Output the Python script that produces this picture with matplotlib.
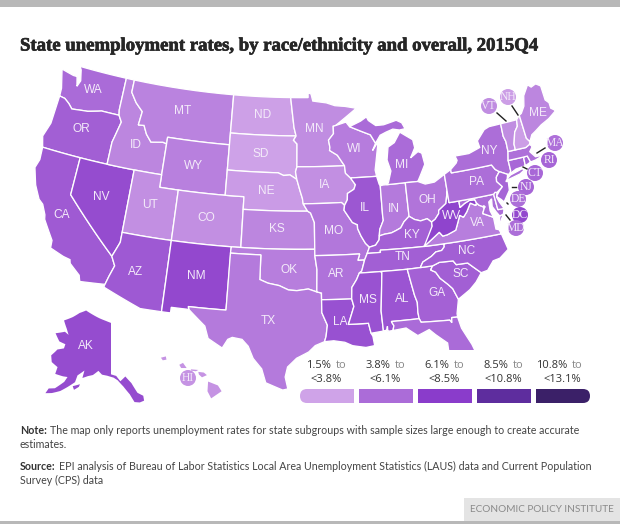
import numpy as np
import matplotlib
matplotlib.use('Agg')
import matplotlib.pyplot as plt
import matplotlib.patheffects as pe
from matplotlib.colors import LinearSegmentedColormap
from matplotlib.patches import Polygon, Rectangle, Circle, FancyBboxPatch

# estimated rates, read from the shade of each state
state_ids = ['AL', 'AK', 'AZ', 'AR', 'CA', 'CO', 'CT', 'DE', 'DC', 'FL', 'GA', 'HI', 'ID', 'IL', 'IN', 'IA', 'KS',
             'KY', 'LA', 'ME', 'MD', 'MA', 'MI', 'MN', 'MS', 'MO', 'MT', 'NE', 'NV', 'NH', 'NJ', 'NM', 'NY', 'NC',
             'ND', 'OH', 'OK', 'OR', 'PA', 'RI', 'SC', 'SD', 'TN', 'TX', 'UT', 'VT', 'VA', 'WA', 'WV', 'WI', 'WY']
state_rates = [6.1, 6.5, 5.9, 4.7, 5.8, 3.5, 5.2, 4.9, 6.7, 5.0, 5.5, 3.3, 3.9, 6.0, 4.4, 3.5, 3.9,
               5.5, 6.3, 3.9, 4.9, 4.8, 5.0, 3.6, 6.2, 4.5, 4.0, 3.0, 6.5, 2.9, 5.3, 6.7, 4.9, 5.6,
               2.8, 4.6, 4.2, 5.6, 4.9, 5.3, 5.6, 2.7, 5.6, 4.4, 3.5, 3.6, 4.2, 5.0, 6.9, 4.3, 4.1]
rates = dict(zip(state_ids, state_rates))

bin_edges = [1.5, 3.8, 6.1, 8.5, 10.8, 13.1]
bin_colors = ['#cfa3e8', '#ab6cd8', '#8a3ccb', '#5e2d9e', '#3b2068']

# shared borders, lon/lat
mn_wi = [(-92.02, 46.71), (-92.29, 46.66), (-92.29, 46.07), (-92.88, 45.57), (-92.75, 45.0), (-92.8, 44.75), (-91.95, 44.35), (-91.22, 43.5)]
ia_wi = [(-91.22, 43.5), (-91.15, 42.9), (-90.64, 42.51)]
ia_il = [(-90.64, 42.51), (-90.15, 41.95), (-90.34, 41.6), (-91.05, 41.3), (-91.1, 40.8), (-91.42, 40.38)]
mo_il = [(-91.42, 40.38), (-91.5, 40.0), (-90.7, 39.0), (-90.2, 38.8), (-90.2, 38.5), (-89.9, 37.9), (-89.5, 37.3), (-89.13, 36.98)]
ar_east = [(-89.7, 36.0), (-90.05, 35.15), (-90.3, 35.0), (-90.6, 34.5), (-91.1, 33.9), (-91.17, 33.0)]
ms_la = [(-91.17, 33.0), (-91.0, 32.4), (-91.6, 31.0), (-89.73, 31.0), (-89.55, 30.2)]
il_ky = [(-89.13, 36.98), (-88.5, 37.1), (-88.1, 37.5), (-88.05, 37.8)]
in_ky = [(-88.05, 37.8), (-87.5, 37.9), (-86.8, 37.95), (-86.3, 38.1), (-85.8, 38.27), (-85.4, 38.72), (-84.82, 39.1)]
oh_ky = [(-84.82, 39.1), (-84.3, 38.8), (-83.7, 38.63), (-83.0, 38.73), (-82.6, 38.42)]
oh_wv = [(-82.6, 38.42), (-82.2, 38.6), (-81.75, 39.0), (-81.7, 39.25), (-80.85, 39.7), (-80.52, 40.64)]
il_in = [(-87.5, 41.72), (-87.53, 39.35), (-87.5, 39.0), (-87.95, 38.3), (-88.05, 37.8)]
ky_tn = [(-89.4, 36.5), (-88.07, 36.5), (-88.07, 36.68), (-83.68, 36.6)]
va_tn = [(-83.68, 36.6), (-81.68, 36.59)]
nc_tn = [(-81.68, 36.59), (-81.7, 36.35), (-82.0, 36.1), (-82.6, 36.05), (-83.1, 35.75), (-84.0, 35.4), (-84.32, 34.99)]
al_ga = [(-85.6, 34.98), (-85.18, 32.87), (-85.0, 32.3), (-85.05, 31.5), (-85.0, 31.0)]
al_ms = [(-88.2, 35.0), (-88.1, 34.9), (-88.47, 31.9), (-88.4, 30.3)]
fl_ga = [(-85.0, 31.0), (-84.86, 30.7), (-82.21, 30.57), (-82.05, 30.35), (-82.0, 30.75), (-81.45, 30.72)]
ga_sc = [(-83.1, 35.0), (-83.35, 34.7), (-82.9, 34.48), (-82.55, 33.95), (-81.9, 33.4), (-81.5, 33.0), (-81.12, 32.1)]
nc_sc = [(-83.1, 35.0), (-82.4, 35.2), (-81.05, 35.15), (-80.8, 34.82), (-79.68, 34.8), (-78.55, 33.86)]
va_west = [(-83.68, 36.6), (-81.97, 37.54), (-81.68, 37.2), (-81.2, 37.25), (-80.3, 37.5), (-80.0, 38.0), (-79.65, 38.6),
           (-79.3, 38.4), (-78.87, 38.77), (-78.35, 39.4), (-77.83, 39.13), (-77.72, 39.32)]
potomac = [(-77.72, 39.32), (-77.5, 39.1), (-77.12, 38.93), (-77.04, 38.79), (-77.3, 38.4), (-76.95, 38.25), (-76.3, 37.95)]
wv_md = [(-79.48, 39.72), (-79.48, 39.2), (-78.95, 39.45), (-78.4, 39.62), (-77.83, 39.6), (-77.72, 39.32)]
delaware_r = [(-75.35, 42.0), (-75.07, 41.6), (-74.7, 41.36), (-75.13, 40.98), (-75.2, 40.65), (-74.72, 40.15), (-75.41, 39.8)]
red_r = [(-100.0, 34.56), (-99.2, 34.3), (-98.1, 34.13), (-97.2, 33.8), (-96.4, 33.75), (-95.3, 33.88), (-94.48, 33.64)]
id_mt = [(-116.05, 49.0), (-116.05, 48.0), (-115.3, 47.25), (-114.4, 46.65), (-114.55, 45.55), (-113.9, 45.6),
         (-113.45, 44.95), (-112.8, 44.4), (-111.5, 44.55), (-111.05, 44.48)]
id_west = [(-117.03, 42.0), (-117.03, 43.8), (-116.9, 44.2), (-116.5, 45.5), (-116.92, 45.99)]
columbia = [(-116.92, 45.99), (-118.98, 46.0), (-119.3, 45.93), (-120.5, 45.7), (-121.2, 45.65), (-122.3, 45.55), (-122.8, 45.9), (-123.4, 46.2), (-124.05, 46.27)]
mo_nw = [(-94.62, 37.0), (-94.62, 39.1), (-95.0, 39.85), (-95.31, 40.0)]
ne_east = [(-95.31, 40.0), (-95.77, 40.58), (-95.85, 41.0), (-96.1, 41.6), (-96.45, 42.5)]
sd_se = [(-96.45, 42.5), (-96.6, 43.1), (-96.45, 43.5)]
sd_ne = [(-96.45, 43.5), (-96.45, 45.3), (-96.85, 45.6), (-96.56, 45.94)]
red_n = [(-96.56, 45.94), (-96.8, 46.6), (-97.23, 49.0)]
wi_mi = [(-90.42, 46.57), (-89.1, 46.13), (-88.1, 45.8), (-87.6, 45.1)]

outlines = {
    'WA': [[(-122.75, 49.0), (-117.03, 49.0), (-117.03, 46.4)] + columbia + [(-124.1, 46.9), (-124.7, 48.38), (-123.2, 48.15), (-122.75, 48.15), (-122.45, 47.4), (-122.2, 47.9), (-122.5, 48.75)]],
    'OR': [columbia[::-1] + id_west[::-1] + [(-124.2, 42.0), (-124.55, 42.85), (-124.1, 44.0)]],
    'CA': [[(-124.2, 42.0), (-120.0, 42.0), (-120.0, 39.0), (-114.6, 35.0), (-114.15, 34.3), (-114.5, 33.4), (-114.72, 32.72), (-117.12, 32.53), (-117.3, 33.0), (-118.4, 33.75), (-118.5, 34.03), (-119.2, 34.15), (-120.6, 34.55), (-120.65, 35.15), (-121.9, 36.6), (-122.0, 36.95), (-122.5, 37.7), (-123.0, 38.0), (-123.75, 39.0), (-124.35, 40.3), (-124.1, 41.0)]],
    'NV': [[(-120.0, 42.0), (-114.05, 42.0), (-114.05, 36.2), (-114.6, 35.0), (-120.0, 39.0)]],
    'ID': [[(-117.03, 49.0)] + id_mt + [(-111.05, 42.0)] + id_west + [(-117.03, 46.4)]],
    'MT': [id_mt + [(-111.05, 45.0), (-104.05, 45.0), (-104.05, 49.0)]],
    'WY': [[(-111.05, 45.0), (-104.05, 45.0), (-104.05, 41.0), (-111.05, 41.0)]],
    'UT': [[(-114.05, 42.0), (-111.05, 42.0), (-111.05, 41.0), (-109.05, 41.0), (-109.05, 37.0), (-114.05, 37.0)]],
    'CO': [[(-109.05, 41.0), (-102.05, 41.0), (-102.05, 37.0), (-109.05, 37.0)]],
    'AZ': [[(-114.05, 37.0), (-109.05, 37.0), (-109.05, 31.33), (-111.07, 31.33), (-114.8, 32.5), (-114.72, 32.72), (-114.5, 33.4), (-114.15, 34.3), (-114.6, 35.0), (-114.05, 36.2)]],
    'NM': [[(-109.05, 37.0), (-103.0, 37.0), (-103.06, 32.0), (-106.62, 32.0), (-106.53, 31.78), (-108.2, 31.78), (-108.2, 31.33), (-109.05, 31.33)]],
    'ND': [[(-104.05, 49.0), (-97.23, 49.0)] + red_n[::-1] + [(-104.05, 45.94)]],
    'SD': [[(-104.05, 45.94)] + sd_ne[::-1] + sd_se[::-1] + [(-97.2, 42.85), (-97.9, 42.8), (-98.5, 43.0), (-104.05, 43.0)]],
    'NE': [[(-104.05, 43.0), (-98.5, 43.0), (-97.9, 42.8), (-97.2, 42.85)] + ne_east[::-1] + [(-102.05, 40.0), (-102.05, 41.0), (-104.05, 41.0)]],
    'KS': [[(-102.05, 40.0)] + mo_nw[::-1] + [(-102.04, 37.0)]],
    'OK': [[(-103.0, 37.0), (-94.62, 37.0), (-94.62, 36.5), (-94.43, 35.39)] + red_r[::-1] + [(-100.0, 36.5), (-103.04, 36.5)]],
    'TX': [[(-106.62, 32.0), (-103.06, 32.0), (-103.04, 36.5), (-100.0, 36.5)] + red_r + [(-94.04, 33.55), (-94.04, 32.0), (-93.55, 31.0), (-93.7, 30.1), (-93.85, 29.7), (-94.7, 29.4), (-95.3, 28.9), (-96.4, 28.4), (-97.2, 27.7), (-97.4, 26.9), (-97.15, 25.95), (-97.6, 25.85), (-99.1, 26.4), (-99.5, 27.5), (-100.3, 28.3), (-100.8, 29.25), (-101.4, 29.77), (-102.3, 29.88), (-102.7, 29.7), (-103.15, 28.98), (-104.5, 29.65), (-104.9, 30.6), (-106.5, 31.75)]],
    'MN': [[(-97.23, 49.0), (-95.15, 49.0), (-95.15, 49.38), (-94.8, 49.3), (-94.6, 48.72), (-93.0, 48.55), (-92.0, 48.3), (-90.8, 48.2), (-89.5, 48.0)] + mn_wi + sd_ne + red_n[1:]],
    'IA': [[(-96.45, 43.5)] + ia_wi + ia_il + [(-91.73, 40.61), (-95.77, 40.58), (-95.85, 41.0), (-96.1, 41.6), (-96.45, 42.5), (-96.6, 43.1)]],
    'MO': [[(-95.77, 40.58), (-91.73, 40.61)] + mo_il + [(-89.4, 36.5), (-89.7, 36.0), (-90.37, 36.0), (-90.15, 36.5), (-94.62, 36.5)] + mo_nw],
    'AR': [[(-94.62, 36.5), (-90.15, 36.5), (-90.37, 36.0)] + ar_east + [(-94.04, 33.02), (-94.04, 33.55), (-94.48, 33.64), (-94.43, 35.39)]],
    'LA': [[(-94.04, 33.02)] + ms_la + [(-89.4, 29.95), (-89.3, 29.2), (-90.1, 29.1), (-91.3, 29.3), (-92.0, 29.6), (-93.0, 29.75), (-93.85, 29.7), (-93.7, 30.1), (-93.55, 31.0), (-94.04, 32.0)]],
    'WI': [[(-92.02, 46.71), (-90.8, 46.95)] + wi_mi + [(-88.0, 44.55), (-87.3, 45.2), (-87.55, 44.3), (-87.9, 43.0), (-87.8, 42.49)] + ia_wi[::-1] + mn_wi[::-1]],
    'IL': [[(-90.64, 42.51), (-87.8, 42.49), (-87.6, 41.85)] + il_in + il_ky[::-1] + mo_il[::-1] + ia_il[::-1]],
    'IN': [[(-87.5, 41.72), (-87.2, 41.76), (-86.82, 41.76), (-84.8, 41.76)] + in_ky[::-1] + il_in[::-1]],
    'MI': [[(-86.82, 41.76), (-84.8, 41.76), (-83.45, 41.73), (-83.15, 42.1), (-82.45, 43.0), (-82.6, 43.9), (-83.0, 44.07), (-83.9, 43.65), (-83.3, 44.4), (-83.4, 45.05), (-84.75, 45.78), (-85.5, 45.0), (-86.25, 44.7), (-86.5, 43.7), (-86.2, 42.8), (-86.6, 41.9)],
           [(-90.42, 46.57), (-89.1, 46.95), (-88.4, 47.25), (-88.2, 46.95), (-87.4, 46.5), (-86.5, 46.5), (-85.0, 46.75), (-84.4, 46.5), (-84.1, 46.0), (-84.75, 45.95), (-85.5, 46.08), (-86.3, 45.9), (-87.0, 45.7), (-87.6, 45.1), (-88.1, 45.8), (-89.1, 46.13)]],
    'OH': [[(-84.82, 39.1), (-84.8, 41.76), (-83.45, 41.73), (-82.7, 41.45), (-81.7, 41.5), (-80.52, 41.98)] + oh_wv[::-1] + oh_ky[::-1]],
    'KY': [il_ky + in_ky + oh_ky + [(-82.6, 38.1), (-81.97, 37.54), (-83.68, 36.6)] + ky_tn[::-1]],
    'TN': [[(-89.4, 36.5)] + ky_tn + va_tn + nc_tn + [(-85.6, 34.98), (-88.2, 35.0), (-90.3, 35.0), (-90.05, 35.15), (-89.7, 36.0)]],
    'MS': [[(-90.3, 35.0)] + al_ms + ms_la[::-1] + ar_east[2:][::-1][:-1]],
    'AL': [al_ms[:1] + [(-85.6, 34.98)] + al_ga[1:] + [(-87.6, 31.0), (-87.4, 30.65), (-87.52, 30.28), (-88.0, 30.25), (-88.0, 30.65), (-88.1, 30.35)] + al_ms[::-1][:-1]],
    'GA': [[(-85.6, 34.98), (-84.32, 34.99)] + ga_sc + [(-81.45, 31.0)] + fl_ga[::-1] + al_ga[::-1][1:]],
    'FL': [[(-87.6, 31.0)] + fl_ga + [(-81.25, 29.8), (-80.55, 28.4), (-80.05, 26.9), (-80.15, 25.75), (-80.4, 25.2), (-81.1, 25.15), (-81.8, 26.1), (-82.7, 27.7), (-82.7, 28.8), (-83.7, 29.6), (-84.2, 30.05), (-85.3, 29.68), (-86.3, 30.38), (-87.52, 30.28), (-87.4, 30.65)]],
    'SC': [nc_sc + [(-79.2, 33.2), (-79.9, 32.7), (-81.12, 32.1)] + ga_sc[::-1]],
    'NC': [[(-81.68, 36.59)] + nc_tn + [(-83.1, 35.0)] + nc_sc[1:] + [(-77.9, 33.95), (-77.2, 34.6), (-76.5, 34.7), (-75.53, 35.25), (-75.87, 36.55)]],
    'VA': [va_west + potomac[1:] + [(-76.3, 37.0), (-76.0, 36.9), (-75.87, 36.55), (-81.68, 36.59)],
           [(-75.95, 37.15), (-75.6, 37.6), (-75.24, 38.03), (-75.65, 37.95)]],
    'WV': [oh_wv + [(-80.52, 39.72)] + wv_md + va_west[::-1][1:] + [(-82.6, 38.1)]],
    'MD': [[(-79.48, 39.72), (-75.79, 39.72), (-75.7, 38.46), (-75.05, 38.45), (-75.24, 38.03), (-75.65, 37.95), (-75.9, 38.3), (-76.2, 38.8), (-76.1, 39.4), (-76.45, 39.2), (-76.5, 38.5)] + potomac[::-1] + wv_md[::-1][1:]],
    'DE': [[(-75.79, 39.72), (-75.6, 39.84), (-75.41, 39.8), (-75.55, 39.45), (-75.4, 39.05), (-75.05, 38.45), (-75.7, 38.46)]],
    'DC': [[(-77.12, 38.93), (-77.04, 39.0), (-76.91, 38.89), (-77.04, 38.79)]],
    'PA': [[(-80.52, 41.98), (-79.76, 42.27), (-79.76, 42.0)] + delaware_r + [(-75.6, 39.84), (-75.79, 39.72), (-80.52, 39.72)]],
    'NY': [[(-79.76, 42.27), (-79.05, 42.7), (-78.9, 42.9), (-79.05, 43.26), (-77.5, 43.25), (-76.4, 43.5), (-76.2, 43.55), (-76.3, 44.1), (-75.3, 44.85), (-74.7, 45.0), (-73.35, 45.01), (-73.4, 44.0), (-73.25, 43.55), (-73.28, 42.74), (-73.5, 42.05), (-73.49, 41.2), (-73.65, 41.0), (-73.9, 41.0), (-74.7, 41.36), (-75.07, 41.6), (-75.35, 42.0), (-79.76, 42.0)],
           [(-74.0, 40.7), (-73.6, 40.9), (-72.3, 41.15), (-72.0, 41.05), (-72.6, 40.8), (-74.0, 40.58)]],
    'NJ': [[(-74.7, 41.36), (-73.9, 41.0), (-74.05, 40.65), (-74.25, 40.48), (-74.0, 40.45), (-74.1, 39.75), (-74.9, 38.95), (-75.15, 39.2), (-75.55, 39.5), (-75.1, 39.9), (-74.72, 40.15), (-75.2, 40.65), (-75.13, 40.98)]],
    'CT': [[(-73.49, 42.05), (-71.8, 42.02), (-71.85, 41.32), (-72.9, 41.25), (-73.65, 41.0), (-73.49, 41.2)]],
    'RI': [[(-71.8, 42.02), (-71.38, 42.02), (-71.2, 41.5), (-71.85, 41.32)]],
    'MA': [[(-73.5, 42.05), (-73.28, 42.74), (-71.3, 42.7), (-70.82, 42.87), (-70.6, 42.65), (-71.0, 42.3), (-70.55, 41.8), (-70.05, 41.78), (-70.2, 42.07), (-69.95, 41.7), (-70.65, 41.55), (-71.2, 41.5), (-71.38, 42.02), (-71.8, 42.02)]],
    'VT': [[(-73.35, 45.01), (-71.5, 45.01), (-71.6, 44.5), (-72.05, 44.1), (-72.45, 43.2), (-72.46, 42.73), (-73.28, 42.74), (-73.25, 43.55), (-73.4, 44.0)]],
    'NH': [[(-71.5, 45.01), (-71.08, 45.3), (-70.98, 43.4), (-70.7, 43.07), (-70.82, 42.87), (-71.3, 42.7), (-72.46, 42.73), (-72.45, 43.2), (-72.05, 44.1), (-71.6, 44.5)]],
    'ME': [[(-71.08, 45.3), (-70.8, 45.4), (-70.3, 45.9), (-70.0, 46.7), (-69.23, 47.46), (-68.9, 47.2), (-68.3, 47.35), (-67.8, 47.07), (-67.78, 45.9), (-67.45, 45.6), (-67.45, 45.15), (-67.0, 44.85), (-68.0, 44.4), (-69.0, 44.1), (-69.8, 43.75), (-70.3, 43.55), (-70.7, 43.07), (-70.98, 43.4)]],
}
alaska_rings = [
    [(-141, 69.65), (-141, 60.3), (-139, 60.0), (-137.5, 59.0), (-135.5, 59.8), (-133.5, 58.5), (-131.8, 56.6), (-130, 55.9), (-130, 55.0), (-131.5, 54.8), (-133.2, 55.0), (-134.5, 56.5), (-136.5, 58.0), (-138.5, 59.2), (-140, 59.7), (-142.5, 60.05), (-144.5, 60.2), (-146, 60.85), (-148, 60.0), (-149.8, 59.7), (-151.8, 59.2), (-151.5, 60.6), (-153.8, 59.5), (-154.2, 58.2), (-156.5, 57.0), (-158.5, 56.0), (-161, 55.2), (-163, 54.8), (-162.5, 55.8), (-160.5, 56.2), (-158, 57.8), (-157.3, 58.8), (-159, 58.7), (-162, 58.7), (-162, 60.0), (-164.8, 60.5), (-166, 61.6), (-165, 62.5), (-164.5, 63.0), (-162, 63.6), (-162, 64.4), (-165, 64.5), (-168.1, 65.6), (-164.2, 66.5), (-162, 66.2), (-163.8, 67.1), (-166.8, 68.35), (-163, 69.5), (-160, 70.6), (-156.6, 71.35), (-152, 70.85), (-148, 70.4), (-144, 70.0)],
    [(-152.3, 58.0), (-154.7, 57.4), (-154, 56.8), (-152.5, 57.5)],
]
hawaii_rings = [
    [(-159.75, 22.1), (-159.35, 22.2), (-159.3, 21.95), (-159.6, 21.9)],
    [(-158.25, 21.55), (-157.95, 21.7), (-157.65, 21.3), (-158.1, 21.3)],
    [(-157.3, 21.2), (-156.7, 21.15), (-156.9, 21.05), (-157.3, 21.1)],
    [(-156.7, 21.0), (-156.25, 20.95), (-156.0, 20.75), (-156.4, 20.58), (-156.65, 20.8)],
    [(-155.9, 20.25), (-155.1, 19.95), (-154.8, 19.5), (-155.65, 18.95), (-155.95, 19.5)],
]

# label spots in pixels
label_spots = {'WA': (93, 90), 'OR': (81, 129), 'CA': (62, 215), 'NV': (101, 197), 'ID': (136, 145), 'MT': (183, 111),
               'WY': (194, 166), 'UT': (150, 205), 'AZ': (136, 272), 'CO': (206, 218), 'NM': (196, 276), 'ND': (263, 115),
               'SD': (261, 154), 'NE': (266, 191), 'KS': (277, 229), 'OK': (289, 270), 'TX': (268, 321), 'MN': (314, 129),
               'IA': (325, 185), 'MO': (334, 231), 'AR': (336, 274), 'LA': (340, 322), 'WI': (354, 149), 'IL': (365, 208),
               'IN': (394, 209), 'MI': (402, 165), 'OH': (427, 200), 'KY': (412, 235), 'TN': (403, 257), 'MS': (368, 300),
               'AL': (402, 299), 'GA': (437, 293), 'SC': (461, 274), 'NC': (467, 251), 'VA': (477, 223), 'WV': (452, 216),
               'PA': (476, 182), 'NY': (489, 151), 'ME': (538, 113), 'AK': (86, 346)}
bubble_spots = {'VT': (489, 106), 'NH': (508, 97), 'MA': (555, 143), 'RI': (549, 160), 'CT': (535, 173), 'NJ': (526, 187),
                'DE': (518, 199), 'DC': (520, 215), 'MD': (516, 228), 'HI': (188, 378)}
leaders = [((497, 113), (506, 121)), ((512, 106), (518, 115)), ((545, 148), (537, 153)), ((527, 169), (523, 167)),
           ((516, 187), (512, 187)), ((508, 204), (507, 203)), ((510, 220), (506, 215))]


def albers(lon, lat):
    lon = np.radians(np.asarray(lon) + 96.0)
    lat = np.radians(np.asarray(lat))
    p1, p2, p0 = np.radians([29.5, 45.5, 37.5])
    n = (np.sin(p1) + np.sin(p2)) / 2
    c = np.cos(p1) ** 2 + 2 * n * np.sin(p1)
    rho = np.sqrt(c - 2 * n * np.sin(lat)) / n
    rho0 = np.sqrt(c - 2 * n * np.sin(p0)) / n
    x = rho * np.sin(n * lon)
    y = rho0 - rho * np.cos(n * lon)
    return 301 + 722 * x, 243 - 722 * y


def alaska(lon, lat):
    lon = np.asarray(lon)
    lat = np.asarray(lat)
    rho = (90 - lat) * 5.5
    theta = np.radians(0.9 * (lon + 141))
    return 111 + rho * np.sin(theta), 211 + rho * np.cos(theta)


def hawaii(lon, lat):
    return 164 + (np.asarray(lon) + 159.5) * 12.25, 359 + (22 - np.asarray(lat)) * 12.9


def ring_xy(ring, proj, steps=8):
    # split long edges so parallels curve in the projection
    pts = np.array(ring + ring[:1], dtype=float)
    lon = []
    lat = []
    for a, b in zip(pts[:-1], pts[1:]):
        t = np.linspace(0, 1, steps, endpoint=False)
        lon.extend(a[0] + (b[0] - a[0]) * t)
        lat.extend(a[1] + (b[1] - a[1]) * t)
    x, y = proj(lon, lat)
    return np.column_stack([x, y])


shade = LinearSegmentedColormap.from_list('epi', list(zip(np.linspace(0, 1, 5), bin_colors)))
mids = [(a + b) / 2 for a, b in zip(bin_edges[:-1], bin_edges[1:])]


def color_for(rate):
    return shade(np.interp(rate, mids, np.linspace(0, 1, 5)))


fig = plt.figure(figsize=(6.2, 5.24), dpi=100)
ax = fig.add_axes([0, 0, 1, 1])
ax.set_xlim(0, 620)
ax.set_ylim(524, 0)
ax.axis('off')

for name, rings in outlines.items():
    for ring in rings:
        ax.add_patch(Polygon(ring_xy(ring, albers), closed=True, facecolor=color_for(rates[name]), edgecolor='white', linewidth=0.95, zorder=2))
for ring in alaska_rings:
    ax.add_patch(Polygon(ring_xy(ring, alaska), closed=True, facecolor=color_for(rates['AK']), edgecolor='none', zorder=2))
for ring in hawaii_rings:
    ax.add_patch(Polygon(ring_xy(ring, hawaii), closed=True, facecolor=color_for(rates['HI']), edgecolor='none', zorder=2))

label_color = '#f3eaf9'
for name, (x, y) in label_spots.items():
    ax.text(x, y, name, ha='center', va='center', color=label_color, fontsize=8.6, family='Liberation Sans', zorder=5)

for a, b in leaders:
    ax.plot([a[0], b[0]], [a[1], b[1]], color='#222222', linewidth=1.0, zorder=3)
for name, (x, y) in bubble_spots.items():
    ax.add_patch(Circle((x, y), 8, facecolor=color_for(rates[name]), edgecolor='none', zorder=4))
    ax.text(x, y, name, ha='center', va='center', color=label_color, fontsize=8.4, family='Liberation Serif', zorder=5)

# legend sits on a white box that hides the tip of Florida
ax.add_patch(Rectangle((320, 350), 300, 60, facecolor='white', edgecolor='none', zorder=3))

low_labels = ['1.5%', '3.8%', '6.1%', '8.5%', '10.8%']
high_labels = ['<3.8%', '<6.1%', '<8.5%', '<10.8%', '<13.1%']
for i in range(5):
    left = 300 + 59 * i
    ax.add_patch(Rectangle((left, 389), 54, 14, facecolor=bin_colors[i], edgecolor='none', zorder=4))
    ax.text(left + 31, 365, low_labels[i], ha='right', va='center', color='#333333', fontsize=8.0, family='Open Sans', zorder=5)
    ax.text(left + 36, 365, 'to', ha='left', va='center', color='#888888', fontsize=8.0, family='Open Sans', zorder=5)
    ax.text(left + 26, 380, high_labels[i], ha='center', va='center', color='#333333', fontsize=8.0, family='Open Sans', zorder=5)
# rounded outer ends of the legend strip
for col, x0, box_x in [(bin_colors[0], 300, 300), (bin_colors[4], 583, 576)]:
    ax.add_patch(Rectangle((x0, 389), 7, 14, facecolor='white', edgecolor='none', zorder=4.1))
    ax.add_patch(FancyBboxPatch((box_x, 389), 14, 14, boxstyle='round,pad=0,rounding_size=7', facecolor=col, edgecolor='none', zorder=4.2))

# page furniture
ax.add_patch(Rectangle((0, 0), 620, 7, facecolor='#b8b8b8', edgecolor='none'))
ax.add_patch(Rectangle((0, 521), 620, 3, facecolor='#b8b8b8', edgecolor='none'))
ax.add_patch(Rectangle((464, 498), 156, 23, facecolor='#e4e4e4', edgecolor='none'))
renderer = fig.canvas.get_renderer()
footer = ax.text(470, 510, 'ECONOMIC POLICY INSTITUTE', ha='left', va='center', color='#8a8a8a', fontsize=8, family='Lato')
footer.set_fontsize(8 * 144 / footer.get_window_extent(renderer).width)

title = ax.text(20, 46, 'State unemployment rates, by race/ethnicity and overall, 2015Q4', ha='left', va='center',
                color='#262626', fontsize=13.5, fontweight='bold', family='Liberation Serif')
title.set_path_effects([pe.withStroke(linewidth=0.5, foreground='#262626')])

note_color = '#444444'
note_font = 'Lato'
bold_gap = 3

# size the notes so the first line ends where it does in the page layout
probe = ax.text(20, 431, 'The map only reports unemployment rates for state subgroups with sample sizes large enough to create accurate',
                fontsize=8, family=note_font)
probe_bold = ax.text(20, 431, 'Note:', fontsize=8, fontweight='bold', family=note_font)
note_size = 8 * (560 - bold_gap) / (probe.get_window_extent(renderer).width + probe_bold.get_window_extent(renderer).width)
probe.remove()
probe_bold.remove()


def lead_line(y, bold, rest):
    t = ax.text(20, y, bold, ha='left', va='center', color='#333333', fontsize=note_size, fontweight='bold', family=note_font)
    end = t.get_window_extent(renderer).x1
    ax.text(end + bold_gap, y, rest, ha='left', va='center', color=note_color, fontsize=note_size, family=note_font)


lead_line(431, 'Note:', 'The map only reports unemployment rates for state subgroups with sample sizes large enough to create accurate')
ax.text(20, 445, 'estimates.', ha='left', va='center', color=note_color, fontsize=note_size, family=note_font)
lead_line(466, 'Source:', 'EPI analysis of Bureau of Labor Statistics Local Area Unemployment Statistics (LAUS) data and Current Population')
ax.text(20, 480, 'Survey (CPS) data', ha='left', va='center', color=note_color, fontsize=note_size, family=note_font)

fig.savefig('out.png', dpi=100)
